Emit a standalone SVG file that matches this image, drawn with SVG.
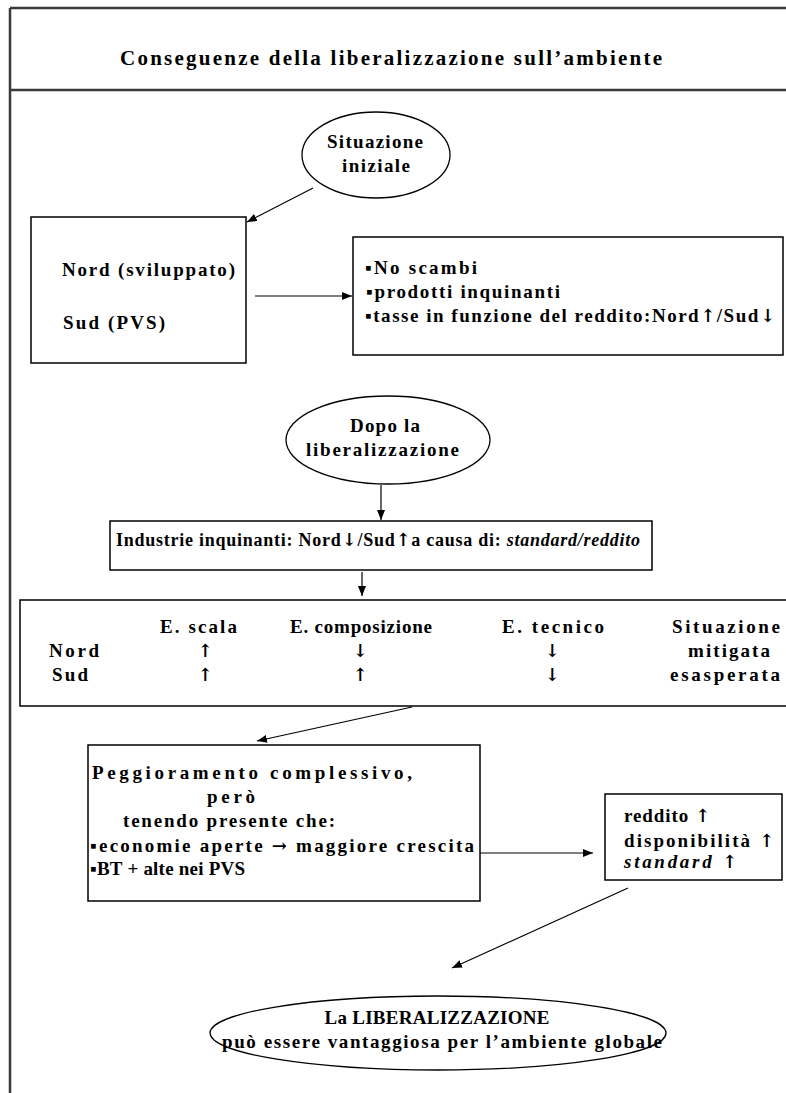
<svg xmlns="http://www.w3.org/2000/svg" width="786" height="1093" viewBox="0 0 786 1093" font-family="'Liberation Serif', 'DejaVu Serif', serif">
<style>
text{font-family:'Liberation Serif','DejaVu Serif',serif;font-weight:bold;font-size:19px;fill:#000}
.title{font-size:21px}
.sm{font-size:18px}
.it{font-style:italic}
.ar{font-family:'DejaVu Serif','DejaVu Sans',sans-serif;font-size:18px}
.box{fill:#fff;stroke:#000;stroke-width:1.5}
.ell{fill:#fff;stroke:#000;stroke-width:1.3}
.frame{stroke:#3a3a3a;stroke-width:2.5;fill:none}
.conn{stroke:#000;stroke-width:1.2;fill:none;marker-end:url(#ah)}
</style>
<defs>
<marker id="ah" viewBox="0 0 10 8" refX="10" refY="4" markerWidth="10" markerHeight="8" markerUnits="userSpaceOnUse" orient="auto">
<path d="M0,0 L10,4 L0,8 z" fill="#000"/>
</marker>
</defs>
<rect x="0" y="0" width="786" height="1093" fill="#fff"/>
<g id="frame">
<path class="frame" d="M10,8 H786 M10,90 H786 M10,8 V1093"/>
<text class="title" x="120" y="65" textLength="542" lengthAdjust="spacing">Conseguenze della liberalizzazione sull’ambiente</text>
</g>
<g id="connectors">
<line class="conn" x1="313" y1="188" x2="247" y2="222"/>
<line class="conn" x1="255" y1="296" x2="352" y2="296"/>
<line class="conn" x1="381" y1="485" x2="381" y2="520"/>
<line class="conn" x1="362" y1="572" x2="362" y2="596"/>
<line class="conn" x1="412" y1="707" x2="257" y2="741"/>
<line class="conn" x1="480" y1="853" x2="593" y2="853"/>
<line class="conn" x1="628" y1="888" x2="452" y2="968"/>
</g>
<g id="situazione-iniziale">
<ellipse class="ell" cx="376" cy="155" rx="74" ry="43"/>
<text x="327" y="148" textLength="96" lengthAdjust="spacing">Situazione</text>
<text x="342" y="172" textLength="68" lengthAdjust="spacing">iniziale</text>
</g>
<g id="nord-sud">
<rect class="box" x="31" y="217" width="215" height="146"/>
<text x="62" y="276" textLength="173" lengthAdjust="spacing">Nord (sviluppato)</text>
<text x="63" y="329" textLength="102" lengthAdjust="spacing">Sud (PVS)</text>
</g>
<g id="no-scambi">
<rect class="box" x="353" y="237" width="430" height="118"/>
<text x="365" y="274" textLength="112" lengthAdjust="spacing">▪No scambi</text>
<text x="366" y="298" textLength="194" lengthAdjust="spacing">▪prodotti inquinanti</text>
<text x="365" y="322" textLength="410" lengthAdjust="spacing">▪tasse in funzione del reddito:Nord<tspan class="ar">↑</tspan>/Sud<tspan class="ar">↓</tspan></text>
</g>
<g id="dopo-liberalizzazione">
<ellipse class="ell" cx="388" cy="440" rx="102" ry="44"/>
<text x="350" y="432" textLength="70" lengthAdjust="spacing">Dopo la</text>
<text x="306" y="456" textLength="153" lengthAdjust="spacing">liberalizzazione</text>
</g>
<g id="industrie">
<rect class="box" x="110" y="521" width="542" height="49"/>
<text class="sm" x="116" y="546" textLength="524" lengthAdjust="spacing">Industrie inquinanti: Nord<tspan class="ar">↓</tspan>/Sud<tspan class="ar">↑</tspan>a causa di: <tspan class="it">standard/reddito</tspan></text>
</g>
<g id="effetti">
<rect class="box" x="20" y="600" width="780" height="106"/>
<text x="160" y="633" textLength="77" lengthAdjust="spacing">E. scala</text>
<text x="290" y="633" textLength="142" lengthAdjust="spacing">E. composizione</text>
<text x="502" y="633" textLength="102" lengthAdjust="spacing">E. tecnico</text>
<text x="672" y="633" textLength="108" lengthAdjust="spacing">Situazione</text>
<text x="49" y="657" textLength="50" lengthAdjust="spacing">Nord</text>
<text class="ar" x="205" y="657" text-anchor="middle">↑</text>
<text class="ar" x="360" y="657" text-anchor="middle">↓</text>
<text class="ar" x="552" y="657" text-anchor="middle">↓</text>
<text x="688" y="657" textLength="82" lengthAdjust="spacing">mitigata</text>
<text x="52" y="681" textLength="36" lengthAdjust="spacing">Sud</text>
<text class="ar" x="205" y="681" text-anchor="middle">↑</text>
<text class="ar" x="360" y="681" text-anchor="middle">↑</text>
<text class="ar" x="552" y="681" text-anchor="middle">↓</text>
<text x="670" y="681" textLength="110" lengthAdjust="spacing">esasperata</text>
</g>
<g id="peggioramento">
<rect class="box" x="88" y="745" width="392" height="156"/>
<text x="92" y="779" textLength="320" lengthAdjust="spacing">Peggioramento complessivo,</text>
<text x="207" y="803" textLength="48" lengthAdjust="spacing">però</text>
<text x="123" y="827" textLength="212" lengthAdjust="spacing">tenendo presente che:</text>
<text x="90" y="852" textLength="384" lengthAdjust="spacing">▪economie aperte <tspan class="ar">→</tspan> maggiore crescita</text>
<text x="90" y="875" textLength="155" lengthAdjust="spacing">▪BT + alte nei PVS</text>
</g>
<g id="reddito">
<rect class="box" x="605" y="794" width="177" height="86"/>
<text x="624" y="822" textLength="86" lengthAdjust="spacing">reddito <tspan class="ar">↑</tspan></text>
<text x="624" y="847" textLength="150" lengthAdjust="spacing">disponibilità <tspan class="ar">↑</tspan></text>
<text x="624" y="868" textLength="113" lengthAdjust="spacing"><tspan class="it">standard</tspan> <tspan class="ar">↑</tspan></text>
</g>
<g id="conclusione">
<ellipse class="ell" cx="438" cy="1033" rx="228" ry="37"/>
<text x="437" y="1024" text-anchor="middle" textLength="225" lengthAdjust="spacing">La LIBERALIZZAZIONE</text>
<text x="222" y="1048" textLength="440" lengthAdjust="spacing">può essere vantaggiosa per l’ambiente globale</text>
</g>
</svg>
